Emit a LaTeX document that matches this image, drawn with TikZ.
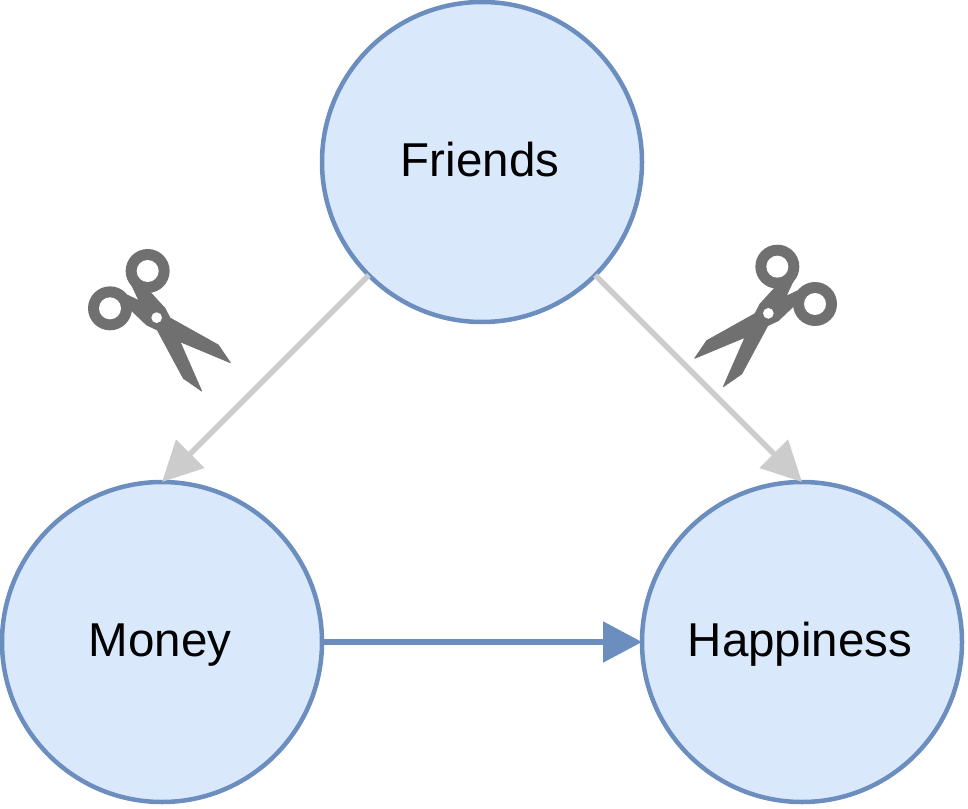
\documentclass[tikz,border=0pt]{standalone}
\usepackage{fontspec}
\setmainfont{Liberation Sans}
\usetikzlibrary{arrows.meta}
\definecolor{nodefill}{HTML}{DAE8FC}
\definecolor{nodeline}{HTML}{6C8EBF}
\definecolor{cutline}{HTML}{CCCCCC}
\definecolor{scissorgray}{HTML}{707070}
\newcommand{\nudged}[1]{#1\kern4pt}
\tikzset{
  varnode/.style={circle,draw=nodeline,fill=nodefill,line width=4.5pt,minimum size=320pt,inner sep=0pt,outer sep=0pt,font=\fontsize{47.5pt}{56pt}\selectfont,text=black,text height=35pt,text depth=7pt},
  cutedge/.style={draw=cutline,line width=5.5pt,-{Triangle[length=40pt,width=39pt]}},
  keptedge/.style={draw=nodeline,line width=5.5pt,-{Triangle[length=39pt,width=40pt]}},
  scissors/.pic={
    \begin{scope}[x=0.3333pt,y=-0.3333pt]
      \fill[scissorgray] (233,123) circle[radius=66];
      \fill[scissorgray] (120,235) circle[radius=66];
      \fill[white] (233,123) circle[radius=33];
      \fill[white] (120,235) circle[radius=33];
      \filldraw[scissorgray,line width=0.8pt,line join=round] (207,212) -- (178,150) -- (240,186) -- (285,235) -- (300,264) -- (445,345) -- (481,398) -- (330,335) -- (395,483) -- (340,445) -- (262,300) -- (230,285) -- (183,240) -- (150,185) -- cycle;
      \fill[white] (260,263) circle[radius=16];
    \end{scope}
  }
}
\begin{document}
\begin{tikzpicture}[x=1pt,y=-1pt]
  \useasboundingbox (0,0) rectangle (968,808);
  \node[varnode] (friends) at (482,162) {\nudged{Friends}};
  \node[varnode] (money) at (162,642) {\nudged{Money}};
  \node[varnode] (happiness) at (802,642) {\nudged{Happiness}};
  \draw[cutedge] (friends.225) -- (money.north);
  \draw[cutedge] (friends.-45) -- (happiness.north);
  \draw[keptedge] (money.east) -- (happiness.west);
  \pic at (70,230) {scissors};
  \pic[xscale=-1] at (855,225.67) {scissors};
\end{tikzpicture}
\end{document}
